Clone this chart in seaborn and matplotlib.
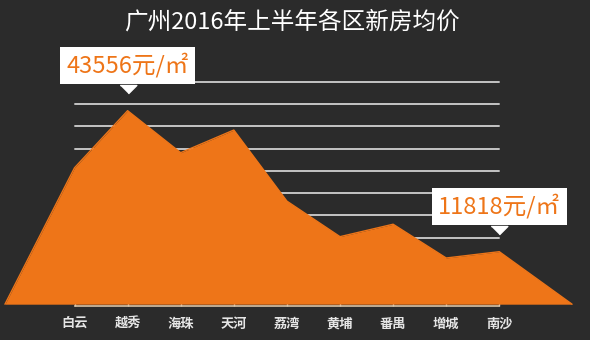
import numpy as np
import pandas as pd
import matplotlib
matplotlib.use("Agg")
import matplotlib.pyplot as plt
import matplotlib.transforms as mtransforms
import seaborn as sns

districts = ["白云", "越秀", "海珠", "天河", "荔湾", "黄埔", "番禺", "增城", "南沙"]
prices = [30700, 43556, 34100, 39200, 23200, 15200, 18000, 10400, 11818]
grid_values = [15000, 20000, 25000, 30000, 35000, 40000, 45000, 50000]
title = "广州2016年上半年各区新房均价"
callouts = {1: "43556元/㎡", 8: "11818元/㎡"}

BG = "#2b2b2b"
ORANGE = "#ee7518"

sns.set_theme(style="dark")
plt.rcParams["font.family"] = ["Noto Sans CJK SC", "DejaVu Sans"]

fig = plt.figure(figsize=(5.9, 3.4), dpi=100)
fig.patch.set_facecolor(BG)
ax = fig.add_axes([0, 0, 1, 1])
ax.set_facecolor(BG)

n = len(districts)
x = np.arange(n)
# area extends beyond first/last category down to the baseline
xe = np.concatenate([[-1.31], x, [n - 1 + 1.37]])
ye = np.concatenate([[0], prices, [0]])
df = pd.DataFrame({"x": xe, "y": ye})

for g in grid_values:
    ax.plot([0, n - 1], [g, g], color="#c4c4c4", lw=1.4, zorder=1)

ax.fill_between(df["x"], df["y"], 0, color=ORANGE, lw=0, zorder=2)
sns.lineplot(data=df, x="x", y="y", color=ORANGE, lw=1, ax=ax, zorder=2)

ax.set_xlim(-1.403, 9.708)
ax.set_ylim(-8058, 68467)

for s in ["top", "left", "right"]:
    ax.spines[s].set_visible(False)
ax.spines["bottom"].set_position(("data", -350))
ax.spines["bottom"].set_bounds(0, n - 1)
ax.spines["bottom"].set_color("#d9c3a6")
ax.spines["bottom"].set_linewidth(1.2)
ax.set_xticks(x)
ax.set_xticklabels(districts)
ax.tick_params(axis="x", direction="in", length=4, width=1, color="#dddddd",
               pad=8, labelsize=9.5, labelcolor="#e6e6e6", bottom=True)
for t in ax.get_xticklabels():
    t.set_fontweight("bold")
ax.set_yticks([])
ax.set_xlabel("")
ax.set_ylabel("")
ax.grid(False)

fig.text(0.495, 0.935, title, ha="center", va="center", color="white", fontsize=17)

tri = [(-1, 0), (1, 0), (0, -1)]
for i, label in callouts.items():
    ax.annotate(label, xy=(i, prices[i]), xytext=(0, 32.5), textcoords="offset points",
                ha="center", va="center", color=ORANGE, fontsize=17,
                bbox=dict(boxstyle="square,pad=0.26", fc="white", ec="none"), zorder=5)
    trans = mtransforms.offset_copy(ax.transData, fig=fig, x=0, y=18.5, units="points")
    ax.plot(i, prices[i], marker=tri, ms=12, color="white", transform=trans, zorder=5)

fig.savefig("out.png", dpi=100, facecolor=BG)
